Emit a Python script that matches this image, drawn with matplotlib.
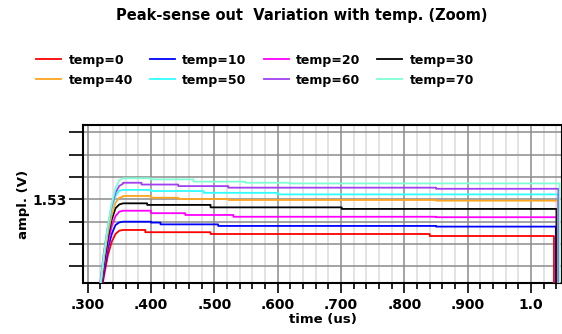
import numpy as np
import matplotlib.pyplot as plt

plt.rcParams["font.family"] = "DejaVu Sans"
plt.rcParams["font.weight"] = "bold"

labels = ["temp=0", "temp=10", "temp=20", "temp=30",
          "temp=40", "temp=50", "temp=60", "temp=70"]
colors = ["#ff0000", "#0000ff", "#ff00ff", "#000000",
          "#ffa520", "#30ffff", "#a040f0", "#7fffd4"]

# shared rise times (us) and per-series rise values (V)
rise_t = [0.320, 0.326, 0.332, 0.338, 0.344, 0.350, 0.356]
rise_v = [
    [1.486, 1.496, 1.505, 1.511, 1.5145, 1.5160, 1.5163],
    [1.487, 1.498, 1.508, 1.5145, 1.5185, 1.5197, 1.5200],
    [1.488, 1.500, 1.510, 1.518, 1.5225, 1.5245, 1.5249],
    [1.489, 1.502, 1.513, 1.521, 1.526, 1.5277, 1.5282],
    [1.490, 1.504, 1.515, 1.523, 1.5285, 1.5307, 1.5312],
    [1.491, 1.505, 1.517, 1.526, 1.5315, 1.5339, 1.5342],
    [1.493, 1.507, 1.518, 1.527, 1.533, 1.5360, 1.5370],
    [1.492, 1.506, 1.518, 1.528, 1.535, 1.5385, 1.5394],
]

# plateau: times where the level changes, and the levels
step_t = [
    [0.356, 0.391, 0.494, 0.840],
    [0.356, 0.400, 0.415, 0.506, 0.850],
    [0.356, 0.400, 0.454, 0.530, 0.850],
    [0.356, 0.394, 0.494, 0.701],
    [0.356, 0.400, 0.443, 0.522, 0.850],
    [0.356, 0.400, 0.483, 0.600],
    [0.356, 0.385, 0.443, 0.522, 0.850],
    [0.356, 0.400, 0.467, 0.549, 0.620],
]
step_v = [
    [1.5163, 1.5153, 1.5145, 1.5136],
    [1.5200, 1.5196, 1.5188, 1.5181, 1.5178],
    [1.5249, 1.5238, 1.5230, 1.5222, 1.5220],
    [1.5282, 1.5275, 1.5264, 1.5257],
    [1.5315, 1.5307, 1.5301, 1.5297, 1.5294],
    [1.5342, 1.5337, 1.5329, 1.5322],
    [1.5374, 1.5366, 1.5359, 1.5352, 1.5347],
    [1.5394, 1.5389, 1.5379, 1.5374, 1.5371],
]
end_t = [1.036, 1.039, 1.041, 1.040, 1.042, 1.043, 1.043, 1.045]
end_v = 1.488

fig = plt.figure(figsize=(5.62, 3.34), dpi=100)
ax = fig.add_axes([0.1477, 0.1527, 0.8523, 0.473])

lines = []
for i in range(len(labels)):
    t = list(rise_t)
    v = list(rise_v[i])
    for k in range(len(step_t[i])):
        t += [step_t[i][k], step_t[i][k]]
        v += [v[-1], step_v[i][k]]
    t += [end_t[i], end_t[i]]
    v += [v[-1], end_v]
    ln, = ax.plot(t, v, color=colors[i], lw=1.3, label=labels[i], zorder=3)
    lines.append(ln)

ax.set_xlim(0.2927, 1.0487)
ax.set_ylim(1.4926, 1.5632)

ax.set_xticks(np.arange(0.3, 1.01, 0.1))
ax.set_xticklabels([".300", ".400", ".500", ".600", ".700", ".800", ".900", "1.0"])
ax.set_xticks(np.arange(0.3, 1.05, 0.02), minor=True)
yt = np.arange(1.50, 1.565, 0.01)
ax.set_yticks(yt)
ax.set_yticklabels(["1.53" if abs(y - 1.53) < 1e-6 else "" for y in yt])

ax.grid(True, which="major", color="#8c8c8c", lw=1.1)
ax.grid(True, which="minor", axis="x", color="#dcdcdc", lw=1.1)
ax.set_axisbelow(True)
ax.tick_params(which="major", direction="out", length=7, width=1.2, labelsize=10)
ax.tick_params(which="minor", direction="out", length=4, width=1.2)
ax.tick_params(axis="y", length=10, pad=2)
for s in ax.spines.values():
    s.set_linewidth(1.5)

ax.set_xlabel("time (us)", fontsize=9.5, fontweight="bold", labelpad=1)
ax.set_ylabel("ampl. (V)", fontsize=9.5, fontweight="bold")
ax.yaxis.set_label_coords(-0.11, 0.5)

fig.text(0.537, 0.955, "Peak-sense out  Variation with temp. (Zoom)",
         ha="center", va="center", fontsize=10.5, fontweight="bold")

# legend fills row by row in the reference
order = [0, 4, 1, 5, 2, 6, 3, 7]
fig.legend([lines[i] for i in order], [labels[i] for i in order],
           loc="upper left", bbox_to_anchor=(0.053, 0.858), ncol=4,
           frameon=False, handlelength=2.0, handletextpad=0.6,
           columnspacing=1.35, labelspacing=0.55, borderpad=0,
           prop={"weight": "bold", "size": 9})

fig.savefig("out.png", dpi=100)
